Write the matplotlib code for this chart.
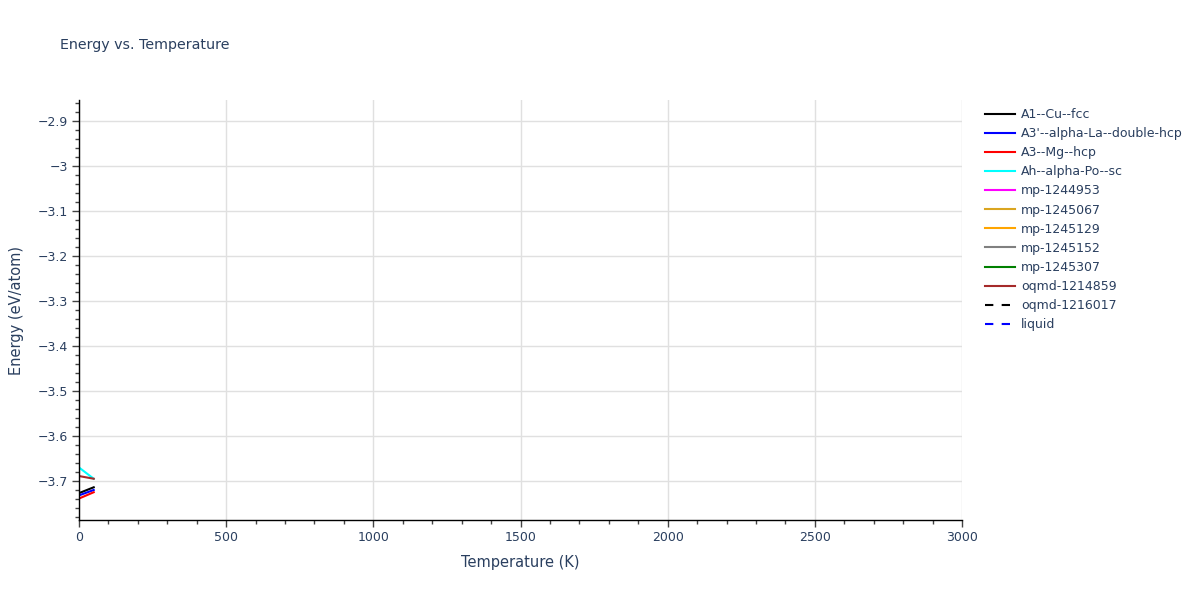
import matplotlib
matplotlib.use("Agg")
import matplotlib.pyplot as plt
import numpy as np

names = ["A1--Cu--fcc", "A3'--alpha-La--double-hcp", "A3--Mg--hcp", "Ah--alpha-Po--sc",
         "mp-1244953", "mp-1245067", "mp-1245129", "mp-1245152", "mp-1245307",
         "oqmd-1214859", "oqmd-1216017", "liquid"]
colors = ["black", "blue", "red", "cyan", "magenta", "goldenrod", "orange", "gray",
          "green", "brown", "black", "blue"]
styles = ["-"] * 10 + ["--", "--"]

temps = {
    "A1--Cu--fcc": [0, 50],
    "A3'--alpha-La--double-hcp": [0, 50],
    "A3--Mg--hcp": [0, 50],
    "Ah--alpha-Po--sc": [0, 50],
    "oqmd-1214859": [0, 50],
}
energies = {
    "A1--Cu--fcc": [-3.727, -3.714],
    "A3'--alpha-La--double-hcp": [-3.732, -3.720],
    "A3--Mg--hcp": [-3.739, -3.725],
    "Ah--alpha-Po--sc": [-3.670, -3.695],
    "oqmd-1214859": [-3.689, -3.695],
}

xticks = [0, 500, 1000, 1500, 2000, 2500, 3000]
yticks = [-3.7, -3.6, -3.5, -3.4, -3.3, -3.2, -3.1, -3.0, -2.9]
ytick_labels = ["\u22123.7", "\u22123.6", "\u22123.5", "\u22123.4", "\u22123.3",
                "\u22123.2", "\u22123.1", "\u22123", "\u22122.9"]

txt = "#2a3f5f"
fig = plt.figure(figsize=(12, 6), dpi=100)
ax = fig.add_axes([79/1200, 1-520/600, (962-79)/1200, 420/600])

for n, c, s in zip(names, colors, styles):
    x = temps.get(n, [])
    y = energies.get(n, [])
    if s == "--":
        ax.plot(x, y, color=c, lw=1.5, linestyle=(0, (4, 4)), label=n)
    else:
        ax.plot(x, y, color=c, lw=1.5, linestyle="-", label=n)

ax.set_xlim(0, 3000)
ax.set_ylim(-3.7867, -2.8533)
ax.set_xticks(xticks)
ax.set_xticklabels([str(v) for v in xticks])
ax.set_xticks(np.arange(0, 3001, 100), minor=True)
ax.set_yticks(yticks)
ax.set_yticklabels(ytick_labels)
ax.set_yticks(np.arange(-3.78, -2.85, 0.02), minor=True)
ax.grid(True, which="major", color="#e0e0e0", lw=1)
ax.set_axisbelow(True)
for sp in ["top", "right"]:
    ax.spines[sp].set_visible(False)
for sp in ["left", "bottom"]:
    ax.spines[sp].set_color("black")
    ax.spines[sp].set_linewidth(1)
ax.tick_params(which="major", length=5, width=1, color="#444444", labelcolor=txt, labelsize=9, pad=3)
ax.tick_params(which="minor", length=3, width=1, color="#444444")
ax.set_xlabel("Temperature (K)", color=txt, fontsize=10.5, labelpad=8)
ax.set_ylabel("Energy (eV/atom)", color=txt, fontsize=10.5, labelpad=10)

fig.text(60/1200, 1-45/600, "Energy vs. Temperature", color=txt, fontsize=10.3, va="center", ha="left")

leg = fig.legend(loc="upper left", bbox_to_anchor=(985/1200, 1-108/600), frameon=False,
                 fontsize=9, handlelength=2.4, handletextpad=0.5, labelspacing=0.49,
                 borderaxespad=0, borderpad=0)
for t in leg.get_texts():
    t.set_color(txt)

fig.savefig("out.png", dpi=100)
